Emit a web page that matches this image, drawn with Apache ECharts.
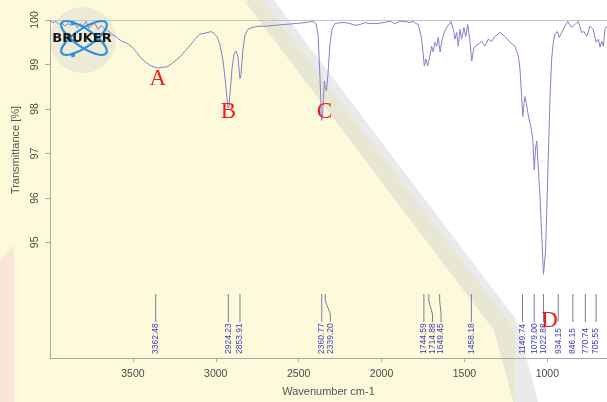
<!DOCTYPE html>
<html>
<head>
<meta charset="utf-8">
<script src="https://cdn.jsdelivr.net/npm/echarts@6/dist/echarts.min.js"></script>
<style>
html,body{margin:0;padding:0;background:#fff;}
#chart{width:607px;height:402px;}
</style>
</head>
<body>
<div id="chart"></div>
<script>
// Spectrum (wavenumber cm-1, transmittance %)
const wavenumbers = [4000,3982,3964,3946,3928,3910,3891,3873,3855,3837,3819,3801,3783,3765,3747,3729,3710,3692,3674,3656,3638,3620,3602,3584,3566,3548,3529,3511,3493,3475,3457,3439,3415,3391,3367,3349,3324,3300,3276,3246,3216,3186,3155,3125,3095,3071,3047,3029,3011,2993,2975,2956,2944,2932,2925,2920,2914,2902,2890,2878,2866,2860,2854,2848,2836,2824,2806,2781,2745,2703,2643,2582,2522,2462,2413,2395,2383,2371,2362,2356,2350,2345,2339,2332,2323,2311,2299,2281,2251,2220,2190,2160,2130,2100,2070,2027,1991,1949,1919,1889,1859,1828,1810,1792,1778,1758,1742,1732,1722,1708,1698,1688,1678,1667,1658,1647,1637,1622,1607,1593,1581,1567,1557,1547,1537,1527,1517,1503,1492,1480,1466,1456,1445,1436,1416,1396,1376,1356,1336,1316,1285,1255,1225,1195,1175,1165,1154,1148,1141,1135,1126,1115,1100,1088,1079,1071,1064,1056,1044,1032,1023,1011,1004,996,984,974,964,954,940,928,913,893,877,853,833,813,793,779,763,743,723,706,692,682,672,662,652,640];
const transmittance = [99.99,99.94,99.97,99.90,99.94,99.86,99.92,99.88,99.94,99.83,99.92,99.86,99.97,99.81,99.90,99.92,99.79,99.88,99.81,99.77,99.72,99.66,99.63,99.57,99.52,99.50,99.46,99.41,99.34,99.26,99.17,99.10,99.03,98.97,98.94,98.92,98.94,98.94,98.99,99.08,99.17,99.30,99.43,99.57,99.68,99.70,99.72,99.74,99.70,99.63,99.46,99.08,98.68,98.23,98.01,98.06,98.34,98.90,99.23,99.30,99.17,98.90,98.68,98.77,99.34,99.66,99.79,99.83,99.86,99.86,99.88,99.90,99.92,99.94,99.97,99.92,99.68,98.68,97.74,97.83,98.23,98.63,98.46,98.41,98.79,99.46,99.79,99.92,99.94,99.94,99.92,99.88,99.90,99.94,99.92,99.92,99.94,99.97,99.92,99.97,99.97,99.94,99.97,99.92,99.90,99.57,98.97,99.12,98.97,99.19,99.41,99.28,99.50,99.41,99.61,99.28,99.52,99.72,99.83,99.90,99.97,99.79,99.57,99.72,99.41,99.79,99.57,99.83,99.63,99.90,99.50,99.08,99.34,99.41,99.46,99.52,99.41,99.57,99.52,99.63,99.72,99.63,99.50,99.41,99.19,98.90,98.23,97.83,98.12,98.28,98.12,97.86,97.61,97.34,96.63,97.12,97.28,96.79,96.01,95.01,94.28,94.79,95.63,96.68,98.23,99.12,99.50,99.68,99.74,99.61,99.72,99.86,99.97,99.83,99.90,99.97,99.72,99.74,99.63,99.86,99.79,99.50,99.57,99.39,99.52,99.41,99.79,99.86];

// Peak picks printed under the spectrum
const peakLabels = [3362.48,2924.23,2853.91,2360.77,2339.20,1744.59,1714.88,1649.45,1458.18,1149.74,1079.00,1022.88,934.15,846.15,770.74,705.55];

// Band letters and where they sit (wavenumber, transmittance)
const letterNames = ['A','B','C','D'];
const letterWn = [3349,2924,2345,986];
const letterT = [98.68,97.94,97.94,93.23];

// Axis ticks
const xTicks = [3500,3000,2500,2000,1500,1000];
const yTicks = [95,96,97,98,99,100];
const xMin = 640, xMax = 4000, yMin = 92.4, yMax = 100;

const spectrum = wavenumbers.map((w,i)=>[w, transmittance[i]]);
const labelFont = '"Liberation Sans", Arial, sans-serif';

function renderPeak(params, api){
  const i = params.dataIndex;
  const base = api.coord([peakLabels[0], yMin])[1];
  const xs = peakLabels.map(p => api.coord([p, yMin])[0]);
  const lx = []; let prev = -1e9;
  xs.forEach(x => { const v = Math.max(x, prev + 8.6); lx.push(v); prev = v; });
  const x0 = xs[i], x1 = lx[i];
  return {type:'group', children:[
    {type:'polyline', shape:{points:[[x0,base-64],[x0,base-57],[x1,base-44],[x1,base-36]]},
     style:{stroke:'#7c7c9c', lineWidth:1, fill:null}},
    {type:'text', x:x1, y:base-4, rotation:Math.PI/2,
     style:{text:peakLabels[i].toFixed(2), fill:'#3d3db2', font:'8.5px ' + labelFont, align:'left', verticalAlign:'middle'}}
  ]};
}

function renderLetter(params, api){
  const i = params.dataIndex;
  const p = api.coord([letterWn[i], letterT[i]]);
  return {type:'text', x:p[0], y:p[1],
    style:{text:letterNames[i], fill:'#ee1c1c', font:'23px "Liberation Serif", "Times New Roman", serif', align:'center', verticalAlign:'middle'}};
}

const chart = echarts.init(document.getElementById('chart'), null, {renderer:'canvas'});
chart.setOption({
  animation:false,
  backgroundColor:'#ffffff',
  grid:{left:50, right:0, top:20, bottom:40},
  graphic:[
    {type:'polygon', z:-10, shape:{points:[[0,0],[262,0],[515,330],[515,402],[0,402]]}, style:{fill:'#fcfada'}},
    {type:'polyline', z:-9, shape:{points:[[255,-5],[505,325],[528,410]]}, style:{stroke:'rgba(200,200,200,0.38)', lineWidth:24, fill:null}},
    {type:'polygon', z:-9, shape:{points:[[0,260],[14,245],[14,402],[0,402]]}, style:{fill:'rgba(245,210,210,0.5)'}},
    {type:'circle', z:-9, shape:{cx:83, cy:40, r:33}, style:{fill:'rgba(205,205,210,0.35)'}},
    {type:'ellipse', z:20, x:84, y:38, rotation:0.6, shape:{cx:0, cy:0, rx:27, ry:9}, style:{stroke:'#2f8fd8', lineWidth:2.2, fill:null}},
    {type:'ellipse', z:20, x:84, y:38, rotation:-0.6, shape:{cx:0, cy:0, rx:27, ry:9}, style:{stroke:'#2f8fd8', lineWidth:2.2, fill:null}},
    {type:'circle', z:20, shape:{cx:73, cy:23, r:2.2}, style:{fill:'#2f8fd8'}},
    {type:'circle', z:20, shape:{cx:73, cy:55, r:2.2}, style:{fill:'#2f8fd8'}},
    {type:'text', z:21, x:82, y:39, style:{text:'BRUKER', fill:'#161616', font:'bold 13px "DejaVu Sans", sans-serif', align:'center', verticalAlign:'middle'}},
    {type:'text', z:5, x:16, y:150, rotation:Math.PI/2, style:{text:'Transmittance [%]', fill:'#555', font:'11px ' + labelFont, align:'center', verticalAlign:'middle'}}
  ],
  xAxis:[{
    type:'value', inverse:true, min:xMin, max:xMax,
    name:'Wavenumber cm-1', nameLocation:'middle', nameGap:28,
    nameTextStyle:{color:'#555', fontSize:11, fontFamily:labelFont},
    axisLine:{show:true, lineStyle:{color:'#a8a8a8', width:1}},
    axisTick:{show:true, customValues:xTicks, length:4, lineStyle:{color:'#a8a8a8'}},
    axisLabel:{customValues:xTicks, formatter:v => String(v), color:'#4a4a4a', fontSize:10.5, fontFamily:labelFont, margin:11},
    splitLine:{show:false}
  },{
    type:'value', inverse:true, min:xMin, max:xMax, position:'top',
    axisLine:{show:true, lineStyle:{color:'#c4c4c4', width:1}},
    axisTick:{show:false}, axisLabel:{show:false}, splitLine:{show:false}
  }],
  yAxis:{
    type:'value', min:yMin, max:yMax,
    axisLine:{show:true, lineStyle:{color:'#a8a8a8', width:1}},
    axisTick:{show:true, customValues:yTicks, length:5, lineStyle:{color:'#a8a8a8'}},
    axisLabel:{customValues:yTicks, formatter:v => String(v), rotate:90, color:'#4a4a4a', fontSize:10.5, fontFamily:labelFont, margin:9},
    splitLine:{show:false}
  },
  series:[
    {type:'line', data:spectrum, showSymbol:false, symbol:'none', z:3,
     lineStyle:{color:'#8282cc', width:1}},
    {type:'custom', data:peakLabels.map(p=>[p, yMin]), renderItem:renderPeak, clip:false, z:4, silent:true},
    {type:'custom', data:letterNames.map((n,i)=>[letterWn[i], letterT[i]]), renderItem:renderLetter, clip:false, z:6, silent:true}
  ]
});
</script>
</body>
</html>
